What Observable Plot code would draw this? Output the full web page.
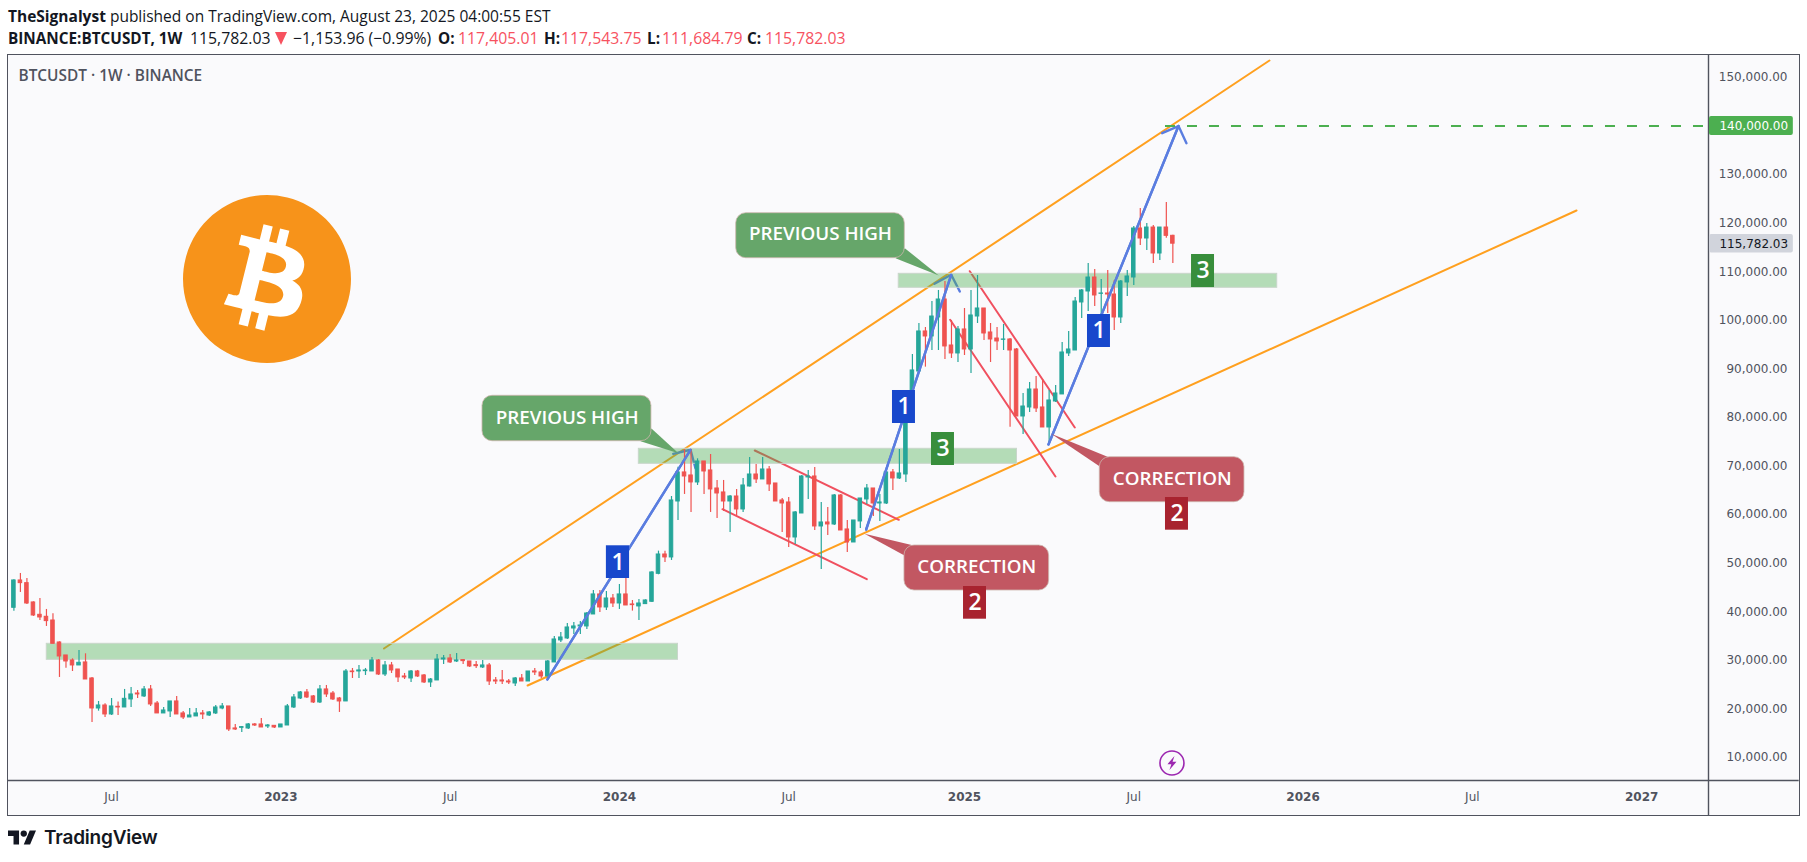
<!DOCTYPE html>
<html><head><meta charset="utf-8">
<script src="https://cdn.jsdelivr.net/npm/d3@7"></script>
<script src="https://cdn.jsdelivr.net/npm/@observablehq/plot@0.6"></script>
<style>
html,body{margin:0;padding:0;background:#fff;width:1807px;height:862px;overflow:hidden}
#head{position:absolute;left:8px;top:5px;font-family:"Open Sans",sans-serif;font-size:15.5px;color:#131722;white-space:nowrap;line-height:22px}
#head b{font-weight:700}
#head .r{color:#f7525f}
#line2{position:relative;height:22px;font-size:15.8px}
#line2 span{position:absolute;top:0}
#line2 b{font-size:15.3px}
#chart{position:absolute;left:7px;top:54px}
#chart svg{border:1px solid #50535e;display:block}
#foot{position:absolute;left:8px;top:826px;display:flex;align-items:center;gap:8px;font-family:Inter,sans-serif;font-weight:600;font-size:19px;color:#131722;letter-spacing:-.2px}
</style></head><body>
<div id="head">
<div><b>TheSignalyst</b> published on TradingView.com, August 23, 2025 04:00:55 EST</div>
<div id="line2"><span style="left:0"><b>BINANCE:BTCUSDT, 1W</b></span><span style="left:182px">115,782.03</span><svg style="position:absolute;left:267px;top:5px" width="12" height="13"><path d="M0 0H12L6 13Z" fill="#f7525f"/></svg><span style="left:285px">−1,153.96 (−0.99%)</span><span style="left:430px"><b>O:</b></span><span class="r" style="left:450px">117,405.01</span><span style="left:536px"><b>H:</b></span><span class="r" style="left:553px">117,543.75</span><span style="left:639px"><b>L:</b></span><span class="r" style="left:654px">111,684.79</span><span style="left:739px"><b>C:</b></span><span class="r" style="left:757px">115,782.03</span></div>
</div>
<div id="chart"></div>
<div id="foot"><svg width="28" height="15" viewBox="0 4 35.5 18" fill="#131722"><path d="M14 22H7V11H0V4h14v18zM28 22h-8l7.5-18h8L28 22z"/><circle cx="20" cy="8" r="4"/></svg><span>TradingView</span></div>
<script>
// Weekly bars from the week of 2022-03-21 (bar 0), prices in thousands of USDT.
const opens=[40.81,46.44,45.89,41.91,39.37,38.96,38.2,33.67,31.0,29.97,
28.94,29.56,26.26,20.08,20.7,18.85,20.43,20.29,21.94,23.17,
22.56,24.0,21.11,19.06,19.47,21.53,19.06,18.23,18.44,19.06,
18.64,19.06,20.08,20.5,15.97,16.1,15.97,16.79,16.79,16.38,
16.51,16.17,16.58,20.29,22.14,23.38,22.56,21.32,24.0,23.17,
22.14,21.53,27.7,27.7,27.77,27.7,29.97,27.08,28.94,28.11,
26.67,26.26,27.7,26.88,25.44,25.85,30.17,30.38,29.76,30.04,
29.76,29.0,28.53,28.94,25.85,25.85,25.64,25.23,26.26,25.64,
27.7,27.5,26.67,29.56,34.09,34.5,36.55,36.97,36.97,39.44,
43.56,40.88,42.73,41.7,43.56,41.5,41.09,41.57,42.05,47.81,
51.79,51.18,62.7,68.68,68.06,66.62,70.94,69.09,65.38,64.56,
62.7,63.73,61.06,65.79,68.26,67.24,69.29,66.41,62.91,62.5,
55.29,60.23,67.65,67.85,57.56,58.38,57.97,63.94,56.94,54.26,
58.59,63.12,65.38,62.29,62.29,68.68,67.44,68.26,80.41,89.47,
97.71,96.68,100.59,104.29,94.82,93.18,98.12,94.0,100.79,102.44,
97.5,96.26,95.99,96.06,94.0,80.2,82.06,85.76,82.06,77.94,
83.29,84.74,93.18,93.79,103.68,105.94,108.82,105.46,105.53,105.32,
100.59,107.8,108.82,118.91,116.85,119.11,113.76,119.11,117.405];
const highs=[46.58,47.88,46.85,42.05,42.73,40.47,39.57,33.81,31.0,30.31,
32.03,31.34,26.47,21.53,21.04,22.14,21.39,24.0,24.41,23.79,
24.61,24.82,21.53,20.29,21.53,22.56,19.47,20.08,20.08,19.67,
19.47,20.7,21.11,20.5,16.79,16.38,17.0,17.0,18.02,16.79,
16.58,16.79,20.91,22.97,23.58,24.0,22.76,24.82,24.82,23.58,
22.35,28.11,28.32,28.94,28.32,30.58,30.17,29.76,29.56,28.11,
27.29,27.91,27.91,27.08,26.26,31.2,31.0,31.2,31.41,30.17,
29.76,29.76,29.97,29.35,26.47,27.91,26.05,26.47,27.08,27.7,
28.32,27.91,29.97,34.91,35.73,37.59,37.79,38.0,39.85,44.38,
44.38,44.17,43.56,45.61,49.05,42.32,42.53,42.46,48.22,52.48,
52.48,63.73,69.77,73.41,73.41,71.49,70.94,72.38,67.03,67.03,
63.94,65.18,67.44,71.76,70.32,71.76,69.91,66.41,63.32,63.53,
60.65,68.06,69.09,69.71,62.5,61.47,64.15,64.15,58.79,58.79,
63.32,66.21,65.38,64.15,68.68,69.29,73.41,80.75,92.97,99.35,
98.53,103.88,106.15,108.0,99.97,98.73,102.44,106.15,109.23,102.44,
99.35,98.53,99.15,96.26,94.2,84.94,87.2,88.44,87.82,85.56,
86.59,95.44,97.71,104.71,106.35,111.71,110.47,108.41,110.26,108.2,
108.2,110.26,119.32,123.02,119.94,119.52,119.11,124.26,117.544];
const lows=[40.12,43.97,41.5,39.03,38.2,36.97,33.4,26.47,28.39,27.7,
28.94,26.05,17.2,19.53,18.23,18.64,18.64,20.29,20.29,22.14,
22.35,20.5,19.06,19.06,18.23,18.85,17.82,18.23,18.44,17.82,
18.44,18.85,19.81,15.35,15.55,15.15,15.76,16.38,16.17,15.97,
15.97,16.17,16.58,20.08,21.94,22.14,21.11,21.11,22.35,21.73,
19.26,21.53,26.26,26.26,26.88,27.7,26.88,26.67,27.29,25.44,
26.05,25.44,26.47,25.23,24.41,25.85,29.14,29.35,29.56,29.14,
28.53,28.32,28.32,24.82,25.03,25.03,25.03,24.61,25.64,25.64,
26.88,26.26,26.67,29.56,33.67,34.29,35.32,35.32,36.35,39.44,
39.85,40.26,40.88,40.47,41.29,40.13,38.2,41.5,41.91,47.61,
50.15,50.56,58.79,64.15,60.44,66.0,64.15,60.44,59.2,60.65,
56.32,59.82,60.44,65.66,66.41,67.24,64.76,62.7,56.32,53.23,
53.85,60.23,63.12,56.73,48.7,55.7,57.76,56.73,52.2,54.26,
57.15,62.09,59.62,58.59,62.09,64.97,67.24,66.62,80.2,89.47,
90.36,93.79,93.79,91.94,92.15,91.32,92.76,89.06,99.35,95.85,
91.32,93.79,93.79,78.0,80.2,76.5,81.03,81.03,77.94,74.44,
83.09,84.74,92.56,93.79,100.38,101.82,102.85,101.2,101.41,97.91,
99.35,104.91,107.17,115.41,114.38,111.7,112.32,116.9,111.685];
const closes=[46.44,45.89,41.7,39.23,38.82,38.07,33.4,30.79,29.76,28.94,
29.49,26.05,20.08,20.7,18.85,20.5,20.29,22.07,22.97,22.97,
24.0,20.91,19.06,19.67,21.53,18.85,18.23,18.64,19.06,18.85,
19.26,20.29,20.5,15.76,15.76,16.24,16.79,16.58,16.17,16.58,
16.17,16.79,20.5,22.35,23.38,22.35,21.32,24.0,22.97,21.94,
21.53,27.7,27.56,27.91,27.91,29.97,27.08,28.94,27.91,26.47,
26.47,27.7,26.67,25.44,26.05,30.17,30.38,29.56,29.97,29.83,
28.73,28.8,28.94,25.64,25.64,25.64,25.44,26.26,25.64,27.7,
27.5,26.67,29.76,34.29,34.7,36.76,36.97,37.17,39.64,43.56,
40.88,42.73,41.7,43.56,41.29,41.36,41.7,42.32,48.09,51.79,
51.18,62.91,68.68,67.85,66.62,70.94,68.88,65.18,64.35,62.7,
63.73,61.06,66.0,68.26,67.24,69.29,66.21,62.7,62.29,55.29,
60.44,67.85,67.85,57.56,58.38,57.97,63.94,56.73,54.26,58.79,
63.32,65.38,62.29,62.5,68.68,67.44,68.47,80.41,89.68,97.71,
96.68,100.79,104.29,94.62,93.18,98.12,94.0,101.0,102.44,97.29,
96.06,95.65,96.06,93.79,80.2,82.26,85.76,81.85,77.94,83.5,
84.94,93.38,94.0,103.88,106.15,108.82,105.12,105.53,105.32,100.59,
108.0,109.03,118.91,116.85,119.11,113.76,119.11,117.4,115.782];

// Axis ticks, given as bar numbers
const monthTicks=[15,67,119,172,224];
const monthLabels=["Jul","Jul","Jul","Jul","Jul"];
const yearTicks=[41,93,146,198,250];
const yearLabels=["2023","2024","2025","2026","2027"];
const priceTicks=[10,20,30,40,50,60,70,80,90,100,110,120,130,140,150].map(d=>d*1000);

// Drawings: bar number (may be fractional) and price
const channelUpperWeeks=[56.84,192.84], channelUpperPrices=[32430,153500];
const channelLowerWeeks=[78.9,240], channelLowerPrices=[24815,122615];
const flagAWeeks=[113.79,135.91], flagAPrices=[73200,58930];
const flagBWeeks=[108.83,130.99], flagBPrices=[61114,46700];
const flagCWeeks=[146.81,162.94], flagCPrices=[110117,77935];
const flagDWeeks=[143.8,159.97], flagDPrices=[100110,67846];
const arrowAWeeks=[81.94,103.92], arrowAPrices=[26050,73345];
const arrowBWeeks=[130.9,143.96], arrowBPrices=[56933,109376];
const arrowCWeeks=[158.9,178.87], arrowCPrices=[74435,140000];
const barbAWeeks=[101.26,103.92,104.68], barbAPrices=[72520,73345,69555];
const barbBWeeks=[141.39,143.96,145.28], barbBPrices=[107523,109376,105937];
const barbCWeeks=[176.36,178.87,180.09], barbCPrices=[138531,140000,136472];
const zoneStart=[5.05,95.98,135.9], zoneEnd=[102,154.06,194.03];
const zoneTop=[33400,73550,109580], zoneBottom=[30100,70460,106700];
const targetWeeks=[176.87,259.5], targetPrice=140000;
const lastPrice=115782.03;

const calloutTexts=["PREVIOUS HIGH","PREVIOUS HIGH","CORRECTION","CORRECTION"];
const calloutColors=["#66a66a","#66a66a","#c25762","#c25762"];
const calloutStart=[71.97,110.94,136.78,166.78], calloutEnd=[97.92,136.83,159,189];
const calloutTop=[84462,122060,53640,71820], calloutBottom=[75113,112794,44375,62555];
const calloutTextWeek=[84.98,123.88,147.89,177.9], calloutTextPrice=[79932,117735,49315,67371];
const tailWeeks=[[96.24,97.92,102.07],[135.4,136.83,142.05],[138.21,136.78,130.64],[168.16,166.78,159.31]];
const tailPrices=[[75113,77730,72644],[112794,114853,109232],[53640,51580,56047],[71820,69905,76639]];

const badgeTexts=["1","1","1","3","3","2","2"];
const badgeColors=["#1848cc","#1848cc","#1848cc","#388e3c","#388e3c","#a8232f","#a8232f"];
const badgeStart=[91,134.94,164.89,140.93,180.87,145.85,176.87];
const badgeEnd=[94.56,138.47,168.42,144.46,184.4,149.38,180.4];
const badgeTop=[53580,85554,101202,76905,113556,45197,63522];
const badgeBottom=[46844,78759,94407,70110,106761,38464,56789];

const logoWeek=38.95, logoPrice=108408;
const boltWeek=177.94, boltPrice=8753;

const GREEN="#26a69a", RED="#ef5350", BLUE="#5a7de0", ORANGE="#ffa01f", LINERED="#f0505f";
const FRAME="#50535e", BG="#fafafc";
const FONT='"Open Sans",sans-serif';

const bars=opens.map((o,i)=>({i,o:o*1000,h:highs[i]*1000,l:lows[i]*1000,c:closes[i]*1000,col:closes[i]>=o?GREEN:RED}));
const seg=(id,w,p)=>w.map((x,k)=>({id,i:x,p:p[k]}));
const zones=zoneStart.map((s,k)=>({s,e:zoneEnd[k],t:zoneTop[k],b:zoneBottom[k]}));
const callouts=calloutTexts.map((text,k)=>({text,col:calloutColors[k],s:calloutStart[k],e:calloutEnd[k],t:calloutTop[k],b:calloutBottom[k],tx:calloutTextWeek[k],ty:calloutTextPrice[k]}));
const badges=badgeTexts.map((text,k)=>({text,col:badgeColors[k],s:badgeStart[k],e:badgeEnd[k],t:badgeTop[k],b:badgeBottom[k]}));
const orange=[...seg("u",channelUpperWeeks,channelUpperPrices),...seg("l",channelLowerWeeks,channelLowerPrices)];
const reds=[...seg("a",flagAWeeks,flagAPrices),...seg("b",flagBWeeks,flagBPrices),...seg("c",flagCWeeks,flagCPrices),...seg("d",flagDWeeks,flagDPrices)];
const shafts=[...seg("a",arrowAWeeks,arrowAPrices),...seg("b",arrowBWeeks,arrowBPrices),...seg("c",arrowCWeeks,arrowCPrices)];
const barbs=[...seg("a",barbAWeeks,barbAPrices),...seg("b",barbBWeeks,barbBPrices),...seg("c",barbCWeeks,barbCPrices)];

const X0=-0.829, X1=260.27, Y0=5252, Y1=154530;
const XEND=274.2, XLABEL=273.3, YEND=-1954;

const decorations=(index,{x,y})=>{
  const g=d3.create("svg:g");
  const logo=g.append("g").attr("transform",`translate(${x(logoWeek)},${y(logoPrice)}) scale(2.625) translate(-32,-32)`);
  logo.append("path").attr("fill","#f7931a").attr("d","M63.04 39.741c-4.274 17.143-21.638 27.575-38.783 23.301C7.12 58.768-3.313 41.404.962 24.262 5.234 7.117 22.597-3.317 39.737.957c17.144 4.274 27.576 21.64 23.302 38.784z");
  logo.append("path").attr("fill","#fff").attr("d","M46.11 27.441c.636-4.258-2.606-6.547-7.039-8.074l1.438-5.768-3.512-.875-1.4 5.616c-.922-.23-1.87-.447-2.812-.662l1.41-5.653-3.509-.875-1.439 5.766c-.764-.174-1.514-.346-2.242-.527l.004-.018-4.842-1.209-.934 3.75s2.605.597 2.55.634c1.422.355 1.68 1.296 1.636 2.042l-1.638 6.571c.098.025.225.061.365.117l-.37-.092-2.297 9.205c-.174.432-.615 1.08-1.609.834.035.051-2.552-.637-2.552-.637l-1.743 4.02 4.57 1.139c.85.213 1.683.436 2.502.646l-1.453 5.835 3.507.875 1.44-5.772c.957.26 1.887.5 2.797.726L27.504 50.8l3.511.875 1.453-5.823c5.987 1.133 10.49.676 12.383-4.738 1.527-4.36-.075-6.875-3.225-8.516 2.294-.531 4.022-2.04 4.483-5.157zM38.087 38.69c-1.086 4.36-8.426 2.004-10.807 1.412l1.928-7.729c2.38.594 10.011 1.77 8.88 6.317zm1.085-11.312c-.99 3.966-7.1 1.951-9.083 1.457l1.748-7.01c1.983.494 8.367 1.416 7.335 5.553z");
  const bolt=g.append("g").attr("transform",`translate(${x(boltWeek)},${y(boltPrice)})`);
  bolt.append("circle").attr("r",12).attr("fill","none").attr("stroke","#9c27b0").attr("stroke-width",1.6);
  bolt.append("path").attr("fill","#9c27b0").attr("d","M2.5 -7 L-4.5 1.2 L-0.6 1.2 L-2.5 7 L4.5 -1.2 L0.6 -1.2 Z");
  return g.node();
};

const axisFont={fontFamily:'"DejaVu Sans",sans-serif',fontSize:12};
const chart=Plot.plot({
  width:1791,height:760,marginTop:0,marginRight:91,marginBottom:35,marginLeft:0,
  style:{background:BG,overflow:"visible",fontFamily:'"DejaVu Sans",sans-serif'},
  x:{type:"linear",domain:[X0,X1]},
  y:{type:"linear",domain:[Y0,Y1]},
  marks:[
    Plot.ruleX([X1],{y1:YEND,y2:Y1,stroke:FRAME,strokeWidth:1.4}),
    Plot.ruleY([Y0],{x1:X0,x2:XEND,stroke:FRAME,strokeWidth:1.4}),
    Plot.line(orange,{x:"i",y:"p",z:"id",stroke:ORANGE,strokeWidth:2}),
    Plot.line(reds,{x:"i",y:"p",z:"id",stroke:LINERED,strokeWidth:2}),
    Plot.line(shafts,{x:"i",y:"p",z:"id",stroke:BLUE,strokeWidth:2.4}),
    Plot.line(barbs,{x:"i",y:"p",z:"id",stroke:BLUE,strokeWidth:2.4}),
    Plot.rect(zones,{x1:"s",x2:"e",y1:"b",y2:"t",fill:"#4caf50",fillOpacity:.4,stroke:"#c9d6cb",strokeWidth:1}),
    Plot.ruleX(bars,{x:"i",y1:"l",y2:"h",stroke:"col",strokeWidth:1.2}),
    Plot.rect(bars,{x1:d=>d.i-.27,x2:d=>d.i+.27,y1:"o",y2:"c",fill:"col",stroke:"col",strokeWidth:1}),
    Plot.line(shafts,{x:"i",y:"p",z:"id",stroke:BLUE,strokeWidth:2.4}),
    Plot.ruleY([targetPrice],{x1:targetWeeks[0],x2:targetWeeks[1],stroke:"#4caf50",strokeWidth:2,strokeDasharray:"10 12"}),
    ...callouts.map((c,k)=>Plot.line(tailWeeks[k].map((w,j)=>({i:w,p:tailPrices[k][j]})),{x:"i",y:"p",fill:c.col,stroke:"none"})),
    Plot.rect(callouts,{x1:"s",x2:"e",y1:"b",y2:"t",fill:"col",stroke:"#cdb5ad",strokeWidth:.8,rx:10,ry:10}),
    Plot.text(callouts,{x:"tx",y:"ty",text:"text",fill:"#fff",fontFamily:FONT,fontWeight:600,fontSize:18.8}),
    Plot.rect(badges,{x1:"s",x2:"e",y1:"b",y2:"t",fill:"col"}),
    Plot.text(badges,{x:d=>(d.s+d.e)/2,y:d=>(d.t+d.b)/2,text:"text",fill:"#fff",fontFamily:FONT,fontWeight:600,fontSize:23}),
    Plot.axisY({anchor:"right",ticks:priceTicks,tickSize:0,tickPadding:79,textAnchor:"end",label:null,tickFormat:d3.format(",.2f"),fill:FRAME,...axisFont}),
    Plot.axisX({anchor:"bottom",ticks:monthTicks,tickSize:0,tickPadding:12,label:null,tickFormat:d=>monthLabels[monthTicks.indexOf(d)],fill:FRAME,...axisFont}),
    Plot.axisX({anchor:"bottom",ticks:yearTicks,tickSize:0,tickPadding:12,label:null,tickFormat:d=>yearLabels[yearTicks.indexOf(d)],fill:FRAME,fontWeight:700,...axisFont}),
    Plot.rect([{p1:138050,p2:141950,s:X1+.15,e:XLABEL}],{x1:"s",x2:"e",y1:"p1",y2:"p2",fill:"#4caf50",rx:2,ry:2}),
    Plot.text([targetPrice],{x:XLABEL-.8,y:d=>d,text:d3.format(",.2f"),fill:"#fff",textAnchor:"end",...axisFont}),
    Plot.rect([{p1:lastPrice-1900,p2:lastPrice+1900,s:X1+.15,e:XLABEL}],{x1:"s",x2:"e",y1:"p1",y2:"p2",fill:"#d1d4dc",rx:2,ry:2}),
    Plot.text([lastPrice],{x:XLABEL-.8,y:d=>d,text:d3.format(",.2f"),fill:"#131722",textAnchor:"end",...axisFont}),
    Plot.text(["BTCUSDT · 1W · BINANCE"],{frameAnchor:"top-left",dx:10,dy:15,text:d=>d,fill:FRAME,fontFamily:FONT,fontWeight:600,fontSize:15.4,textAnchor:"start"}),
    decorations
  ]
});
document.getElementById("chart").appendChild(chart);
</script>
</body></html>
